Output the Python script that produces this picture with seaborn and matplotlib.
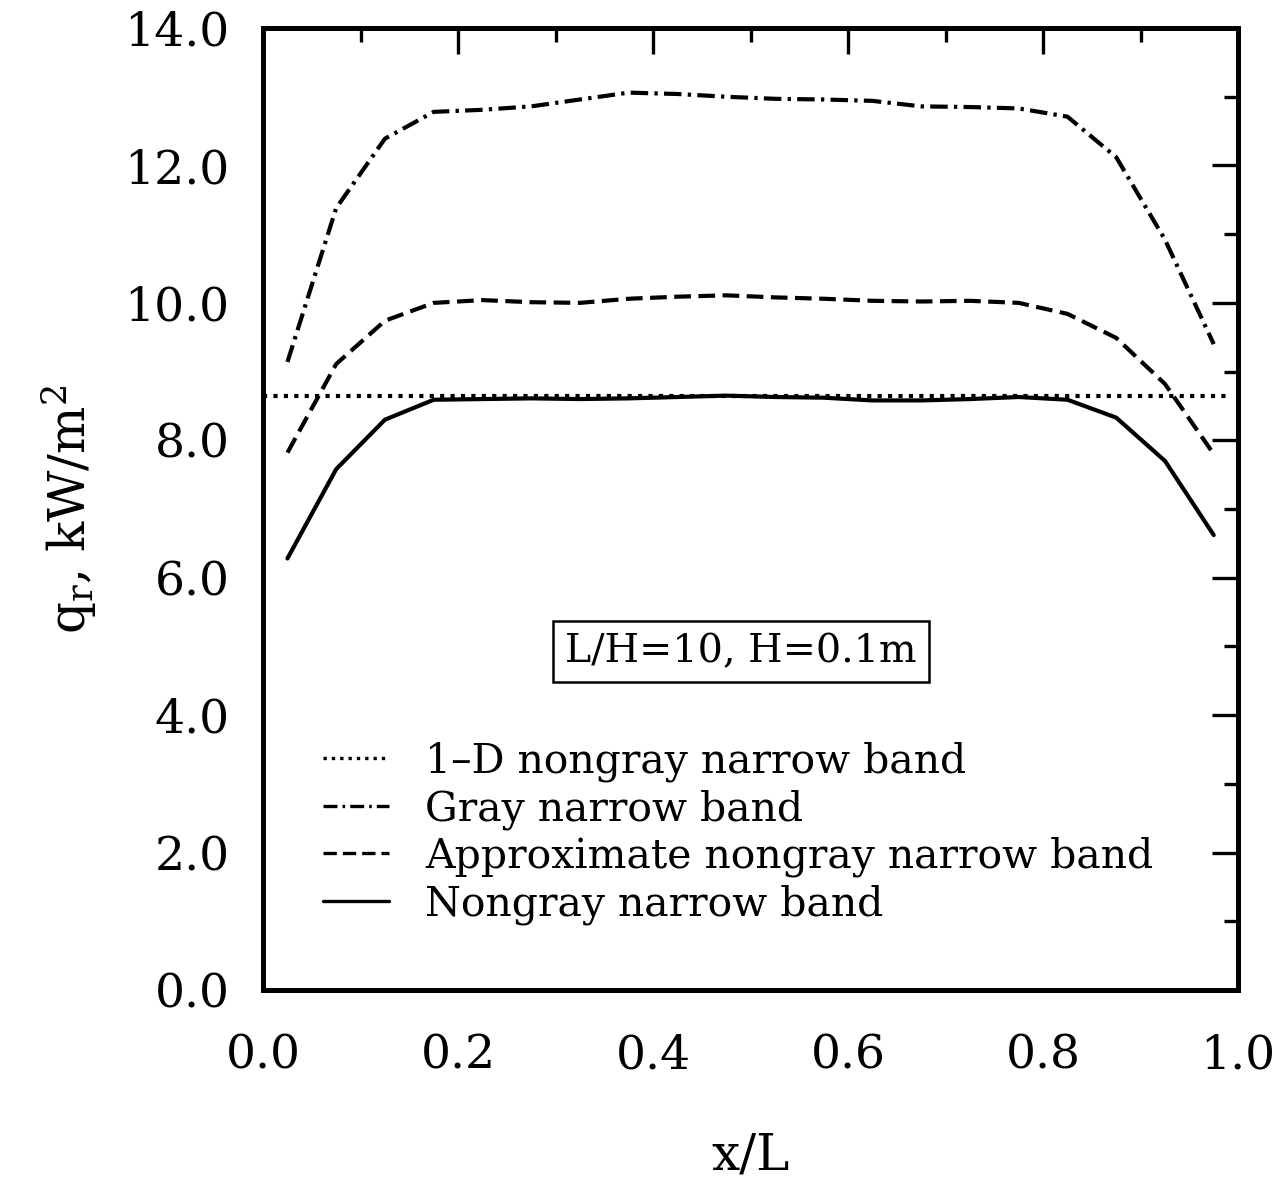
import numpy as np
import pandas as pd
import matplotlib
matplotlib.use("Agg")
import matplotlib.pyplot as plt
from matplotlib.ticker import MultipleLocator, FormatStrFormatter
import seaborn as sns

# ---------------- data ----------------
x_pos = [0.025, 0.075, 0.125, 0.175, 0.225, 0.275, 0.325, 0.375, 0.425, 0.475,
         0.525, 0.575, 0.625, 0.675, 0.725, 0.775, 0.825, 0.875, 0.925, 0.975]
gray_nb = [9.14, 11.38, 12.39, 12.78, 12.81, 12.86, 12.96, 13.06, 13.04, 13.00,
           12.97, 12.96, 12.94, 12.86, 12.85, 12.83, 12.71, 12.12, 10.92, 9.40]
approx_nongray = [7.82, 9.11, 9.74, 10.00, 10.04, 10.01, 10.00, 10.06, 10.09, 10.11,
                  10.08, 10.06, 10.03, 10.02, 10.03, 10.00, 9.84, 9.49, 8.82, 7.80]
nongray_nb = [6.28, 7.58, 8.30, 8.59, 8.60, 8.61, 8.60, 8.61, 8.63, 8.65,
              8.63, 8.62, 8.58, 8.58, 8.60, 8.63, 8.59, 8.33, 7.70, 6.62]
x_1d = [0.0, 0.99]
one_d = [8.64, 8.64]

labels = ["1\u2013D nongray narrow band", "Gray narrow band",
          "Approximate nongray narrow band", "Nongray narrow band"]

frames = [
    pd.DataFrame({"x": x_1d, "q": one_d, "series": labels[0]}),
    pd.DataFrame({"x": x_pos, "q": gray_nb, "series": labels[1]}),
    pd.DataFrame({"x": x_pos, "q": approx_nongray, "series": labels[2]}),
    pd.DataFrame({"x": x_pos, "q": nongray_nb, "series": labels[3]}),
]
df = pd.concat(frames, ignore_index=True)

# ---------------- style ----------------
sns.set_style("white")
plt.rcParams["font.family"] = ["DejaVu Serif"]
plt.rcParams["mathtext.fontset"] = "dejavuserif"
plt.rcParams["text.color"] = "black"
plt.rcParams["axes.labelcolor"] = "black"
plt.rcParams["xtick.color"] = "black"
plt.rcParams["ytick.color"] = "black"

dash_map = {
    labels[0]: (1.0, 1.5),
    labels[1]: (4.2, 1.5, 0.8, 1.5),
    labels[2]: (4.0, 1.8),
    labels[3]: "",
}

fig = plt.figure(figsize=(12.87, 11.88), dpi=100)
ax = fig.add_axes([0.2044, 0.1667, 0.7576, 0.8097])

sns.lineplot(data=df, x="x", y="q", style="series", style_order=labels,
             dashes=dash_map, color="black", linewidth=3.0, legend=False,
             sort=False, estimator=None, ax=ax)

ax.set_xlim(0.0, 1.0)
ax.set_ylim(0.0, 14.0)
ax.xaxis.set_major_locator(MultipleLocator(0.2))
ax.xaxis.set_minor_locator(MultipleLocator(0.1))
ax.yaxis.set_major_locator(MultipleLocator(2.0))
ax.yaxis.set_minor_locator(MultipleLocator(1.0))
ax.xaxis.set_major_formatter(FormatStrFormatter("%.1f"))
ax.yaxis.set_major_formatter(FormatStrFormatter("%.1f"))

ax.tick_params(which="both", direction="in", top=True, right=True,
               width=2.4, colors="black")
ax.tick_params(which="major", length=19)
ax.tick_params(which="minor", length=10)
ax.tick_params(axis="x", which="major", pad=31, labelsize=34)
ax.tick_params(axis="y", which="major", pad=24, labelsize=34)

for sp in ax.spines.values():
    sp.set_linewidth(3.6)
    sp.set_color("black")

ax.set_xlabel("x/L", fontsize=36, labelpad=38, color="black")
ax.set_ylabel(r"q$_{\rm r}$, kW/m$^{2}$", fontsize=36, labelpad=18,
              color="black")

# legend
handles = ax.get_lines()[:4]
leg = ax.legend(handles, labels, loc="upper left",
                bbox_to_anchor=(0.0615, 0.258), frameon=False,
                handlelength=1.6, handletextpad=0.9, labelspacing=0.17,
                borderpad=0.0, borderaxespad=0.0,
                prop={"family": "DejaVu Serif", "size": 29.5})
for t in leg.get_texts():
    t.set_color("black")
for h in leg.get_lines():
    h.set_linewidth(2.4)

# annotation box
ax.text(0.490, 0.352, "L/H=10, H=0.1m", transform=ax.transAxes,
        ha="center", va="center", fontsize=28.5, family="DejaVu Serif",
        color="black",
        bbox=dict(boxstyle="square,pad=0.3", facecolor="white",
                  edgecolor="black", linewidth=1.8))

fig.savefig("out.png", dpi=100)
